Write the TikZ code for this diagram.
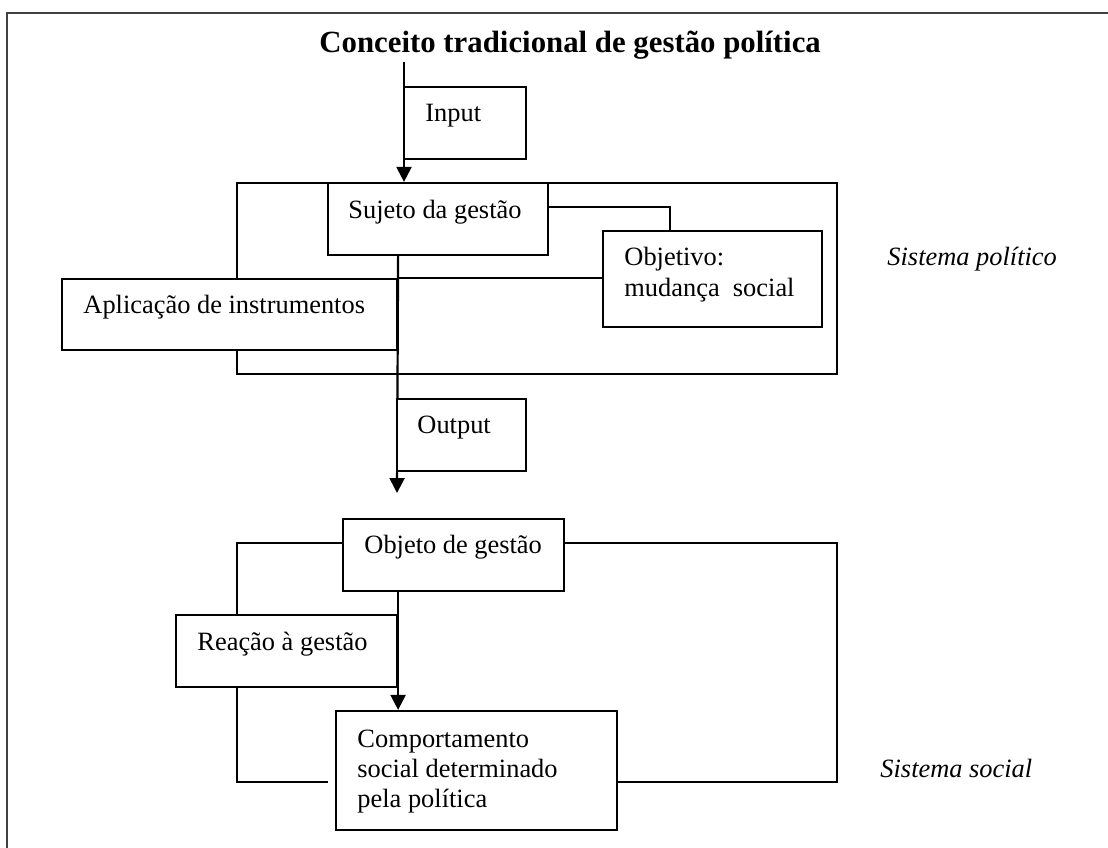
\documentclass[tikz,border=0pt]{standalone}
\usepackage{fontspec}
\setmainfont{Liberation Serif}
\usetikzlibrary{arrows.meta,fit}
\begin{document}
\begin{tikzpicture}[x=0.4545pt,y=-0.4545pt,
  frame/.style={draw=black!75, line width=1pt},
  sysbox/.style={draw, line width=1pt, inner sep=0pt},
  box/.style={draw, line width=1pt, fill=white, inner sep=0pt},
  wire/.style={line width=1pt},
  arr/.style={wire, -{Triangle[width=6.8pt,length=6.8pt]}},
  lbl/.style={anchor=base west, inner sep=0pt, font=\fontsize{12pt}{13.6pt}\selectfont},
  side/.style={lbl, font=\fontsize{12pt}{13.6pt}\selectfont\itshape},
  heading/.style={anchor=base west, inner sep=0pt, font=\fontsize{14pt}{16pt}\selectfont\bfseries}]
\useasboundingbox (0,0) rectangle (1108,847);
\clip (0,0) rectangle (1108,847);

% page frame (runs off the right and bottom edges)
\draw[frame] (7,870) -- (7,13) -- (1130,13);

\node[heading] (title) at (319,53) {Conceito tradicional de gestão política};

% ---------- political system ----------
\node[sysbox, fit={(237,183) (837,374)}] (sys) {};

\coordinate (inTop) at (404,62);
\coordinate (outTip) at (397,493);

\node[box, fit={(404,87) (526,159)}] (inbox) {};
\node[lbl] (inT) at (425,122) {Input};
\draw[arr] (inTop) -- (inTop |- sys.north);

\node[box, fit={(328,183) (548,255)}] (suj) {};
\node[lbl] (sujT) at (348,218) {Sujeto da gestão};

\node[box, fit={(603,231) (822,327)}] (objv) {};
\node[lbl] (objvT1) at (624,265) {Objetivo:};
\node[lbl] (objvT2) at (624,296) {mudança\ \ social};

\coordinate (sujR) at (548,207);
\coordinate (objvTop) at (670,231);
\draw[wire] (sujR) -| (objvTop);

\node[box, fit={(62,279) (397,350)}] (apl) {};
\node[lbl] (aplT) at (83,313) {Aplicação de instrumentos};
\draw[wire] (apl.north east) -- (apl.north east -| objv.west);

\draw[arr] (apl.east |- suj.south) -- (outTip);

\node[box, fit={(397,399) (526,471)}] (outbox) {};
\node[lbl] (outT) at (417,433) {Output};

\node[side] (polT) at (887,265) {Sistema político};

% ---------- social system ----------
\node[box, fit={(343,519) (564,591)}] (obj) {};
\node[lbl] (objT) at (364,553) {Objeto de gestão};

\node[box, fit={(336,711) (617,830)}] (comp) {};
\node[lbl] (compT1) at (357,747) {Comportamento};
\node[lbl] (compT2) at (357,777) {social determinado};
\node[lbl] (compT3) at (357,807) {pela política};

\coordinate (objL) at (343,543);
\coordinate (socL) at (237,543);
\coordinate (socLB) at (328,782);
\coordinate (objR) at (564,543);
\coordinate (socR) at (837,543);
\coordinate (compR) at (617,782);

\draw[wire] (objL) -- (socL) |- (socLB);
\draw[wire] (objR) -- (socR) |- (compR);

\node[box, fit={(176,615) (397,687)}] (reac) {};
\node[lbl] (reacT) at (197,650) {Reação à gestão};

\draw[arr] (reac.east |- obj.south) -- (reac.east |- comp.north);

\node[side] (socT) at (880,777) {Sistema social};
\end{tikzpicture}
\end{document}
